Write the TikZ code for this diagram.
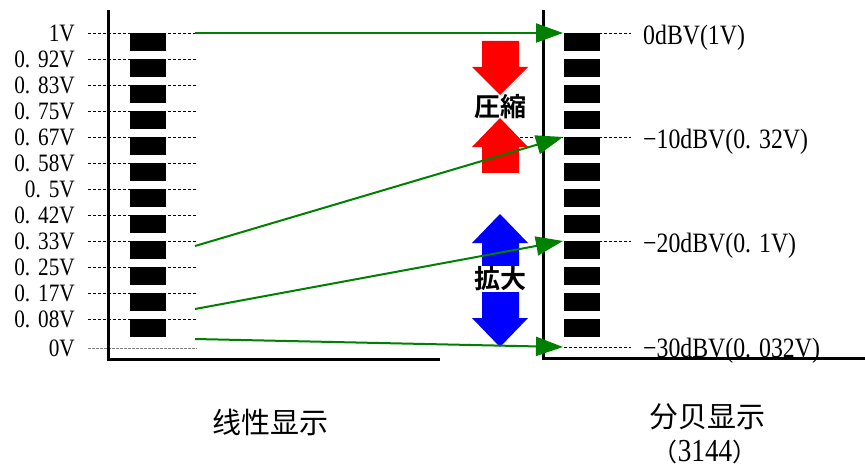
\documentclass[tikz,border=0pt]{standalone}
\usepackage{fontspec}
\setmainfont{Liberation Serif}[FakeStretch=0.85]
\newfontfamily\cjksc{Noto Sans CJK SC}
\newfontfamily\cjkjp{Noto Sans CJK JP Bold}
\usetikzlibrary{arrows.meta}
\definecolor{linkgreen}{RGB}{0,128,0}
\newcommand\wdot{.\kern8pt}

\begin{document}
\begin{tikzpicture}[x=1pt,y=-1pt,
    vlabel/.style={anchor=east,inner sep=0pt,font=\fontsize{25}{25}\selectfont},
    dblabel/.style={anchor=west,inner sep=0pt,font=\fontsize{28}{28}\selectfont},
    guide/.style={densely dashed,line width=0.6pt},
    bar/.style={fill=black},
    axisline/.style={line width=3pt},
    link/.style={line width=2pt,draw=linkgreen,-{Triangle[length=27pt,width=19pt]}},
    title/.style={font=\cjksc\fontsize{29}{29}\selectfont},
    tag/.style={font=\cjkjp\fontsize{26}{26}\selectfont,inner sep=1pt}]
    \useasboundingbox (0,0) rectangle (865,468);
    % Escala lineal
    \foreach \lab [count=\k from 0] in {1V,0\wdot92V,0\wdot83V,0\wdot75V,0\wdot67V,0\wdot58V,0\wdot5V,0\wdot42V,0\wdot33V,0\wdot25V,0\wdot17V,0\wdot08V} {
        \draw[guide] (88,{33+26*\k}) -- (197,{33+26*\k});
        \fill[bar] (130,{33+26*\k}) rectangle (166,{51+26*\k});
        \node[vlabel] (v\k) at (75,{33+26*\k}) {\lab};
    }
    \draw[guide,gray,dash pattern=on 3pt off 1pt] (88,348) -- (197,348);
    \node[vlabel] (v12) at (75,348) {0V};
    \draw[axisline] (108,10) -- (108,359) -- (440,359); % Ejes lineales
    % Escala en dB
    \foreach \y in {33,137,241,347}
        \draw[guide] (564,\y) -- (631,\y);
    \draw[guide] (500,137) -- (564,137);
    \foreach \k in {0,...,11}
        \fill[bar] (564,{33+26*\k}) rectangle (600,{51+26*\k});
    \draw[axisline] (543,10) -- (543,358) -- (865,358); % Ejes en dB
    \node[dblabel] (d0) at (643,38) {0dBV(1V)};
    \node[dblabel] (d1) at (643,142) {−10dBV(0\wdot32V)};
    \node[dblabel] (d2) at (643,246) {−20dBV(0\wdot1V)};
    \node[dblabel] (d3) at (643,351) {−30dBV(0\wdot032V)};
    % Flechas de bloque
    \fill[red] (482,41) -- (519,41) -- (519,67) -- (528,67) -- (500,95) -- (472,67) -- (482,67) -- cycle;
    \fill[red] (500,118) -- (528,147) -- (519,147) -- (519,173) -- (482,173) -- (482,147) -- (472,147) -- cycle;
    \fill[blue] (500,214) -- (528,243) -- (519,243) -- (519,318) -- (528,318) -- (500,347) -- (472,318) -- (482,318) -- (482,243) -- (472,243) -- cycle;
    \node[tag] (comp) at (500,107) {圧縮};
    \node[tag,fill=white] (expd) at (500,279) {拡大};
    % Flechas verdes
    \coordinate (a0) at (195,33);
    \coordinate (a1) at (195,246);
    \coordinate (a2) at (195,309);
    \coordinate (a3) at (195,339);
    \coordinate (b0) at (563,33);
    \coordinate (b1) at (563,137);
    \coordinate (b2) at (563,241);
    \coordinate (b3) at (563,347);
    \foreach \i in {0,...,3}
        \draw[link] (a\i) -- (b\i);
    % Títulos
    \node[title] (lin) at (270,422) {线性显示};
    \node[title] (dbt) at (707,417) {分贝显示};
    \node[font=\fontsize{32}{32}\selectfont] (cnt) at (705,452) {{\cjksc\fontsize{25}{25}\selectfont （}3144{\cjksc\fontsize{25}{25}\selectfont ）}};
\end{tikzpicture}
\end{document}
